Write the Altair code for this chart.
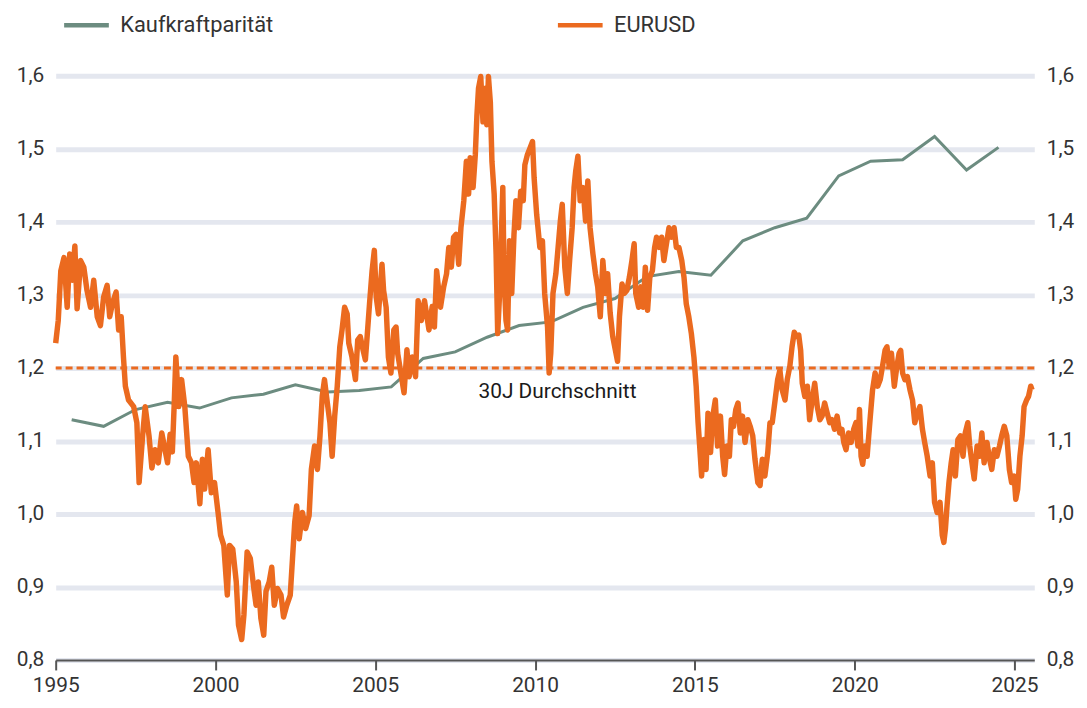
import altair as alt
import pandas as pd

SERIES = ["Kaufkraftparität", "EURUSD"]
COLORS = ["#6c8c80", "#eb6a1f"]
AVG_30Y = 1.2
AVG_LABEL = "30J Durchschnitt"
AVG_LABEL_YEAR = 2010.7
X_TICKS = [1995, 2000, 2005, 2010, 2015, 2020, 2025]
Y_TICKS = [0.8, 0.9, 1.0, 1.1, 1.2, 1.3, 1.4, 1.5, 1.6]

PPP_YEARS = [1995.5, 1996.5, 1997.5, 1998.5, 1999.5, 2000.5, 2001.5, 2002.5, 2003.5, 2004.5,
             2005.5, 2006.5, 2007.5, 2008.5, 2009.5, 2010.5, 2011.5, 2012.5, 2013.5, 2014.5,
             2015.5, 2016.5, 2017.5, 2018.5, 2019.5, 2020.5, 2021.5, 2022.5, 2023.5, 2024.5]
PPP_VALUES = [1.129, 1.120, 1.143, 1.153, 1.145, 1.159, 1.164, 1.177, 1.167, 1.169,
              1.174, 1.213, 1.222, 1.242, 1.258, 1.263, 1.283, 1.295, 1.325, 1.332,
              1.327, 1.374, 1.392, 1.405, 1.463, 1.483, 1.485, 1.517, 1.471, 1.502]

EUR_YEARS = [
    1995.00, 1995.08, 1995.16, 1995.26, 1995.36, 1995.44, 1995.52, 1995.60, 1995.67, 1995.78,
    1995.88, 1995.98, 1996.09, 1996.19, 1996.30, 1996.40, 1996.50, 1996.61, 1996.69, 1996.78,
    1996.89, 1996.97, 1997.05, 1997.12, 1997.18, 1997.28, 1997.44, 1997.54, 1997.61, 1997.72,
    1997.80, 1997.92, 1998.01, 1998.11, 1998.21, 1998.32, 1998.42, 1998.50, 1998.58, 1998.65,
    1998.71, 1998.76, 1998.85, 1998.94, 1999.04, 1999.15, 1999.25, 1999.33, 1999.40, 1999.51,
    1999.59, 1999.66, 1999.77, 1999.87, 1999.97, 2000.08, 2000.16, 2000.26, 2000.37, 2000.44,
    2000.54, 2000.65, 2000.72, 2000.82, 2000.89, 2000.99, 2001.09, 2001.20, 2001.27, 2001.34,
    2001.42, 2001.51, 2001.58, 2001.68, 2001.76, 2001.84, 2001.94, 2002.05, 2002.13, 2002.23,
    2002.34, 2002.41, 2002.48, 2002.54, 2002.62, 2002.72, 2002.82, 2002.93, 2003.00, 2003.10,
    2003.19, 2003.27, 2003.34, 2003.41, 2003.50, 2003.58, 2003.65, 2003.73, 2003.81, 2003.89,
    2003.96, 2004.04, 2004.12, 2004.17, 2004.27, 2004.38, 2004.45, 2004.53, 2004.62, 2004.69,
    2004.76, 2004.82, 2004.90, 2004.97, 2005.03, 2005.10, 2005.21, 2005.26, 2005.34, 2005.41,
    2005.49, 2005.58, 2005.65, 2005.70, 2005.80, 2005.90, 2005.99, 2006.06, 2006.16, 2006.26,
    2006.34, 2006.44, 2006.54, 2006.68, 2006.78, 2006.85, 2006.92, 2007.04, 2007.14, 2007.23,
    2007.30, 2007.38, 2007.45, 2007.53, 2007.61, 2007.68, 2007.77, 2007.85, 2007.92, 2007.97,
    2008.06, 2008.13, 2008.18, 2008.23, 2008.30, 2008.37, 2008.44, 2008.49, 2008.54, 2008.60,
    2008.65, 2008.72, 2008.78, 2008.83, 2008.89, 2008.94, 2008.99, 2009.03, 2009.09, 2009.14,
    2009.20, 2009.27, 2009.34, 2009.40, 2009.48, 2009.55, 2009.63, 2009.68, 2009.76, 2009.84,
    2009.92, 2009.97, 2010.05, 2010.15, 2010.23, 2010.30, 2010.39, 2010.44, 2010.49, 2010.56,
    2010.65, 2010.72, 2010.79, 2010.85, 2010.93, 2011.01, 2011.08, 2011.16, 2011.22, 2011.27,
    2011.34, 2011.41, 2011.50, 2011.58, 2011.65, 2011.72, 2011.81, 2011.89, 2011.96, 2012.04,
    2012.12, 2012.20, 2012.27, 2012.35, 2012.43, 2012.51, 2012.58, 2012.64, 2012.72, 2012.79,
    2012.87, 2012.95, 2013.03, 2013.10, 2013.15, 2013.24, 2013.31, 2013.38, 2013.45, 2013.52,
    2013.59, 2013.67, 2013.74, 2013.80, 2013.88, 2013.96, 2014.03, 2014.11, 2014.19, 2014.27,
    2014.35, 2014.42, 2014.50, 2014.59, 2014.66, 2014.73, 2014.81, 2014.89, 2014.97, 2015.04,
    2015.10, 2015.15, 2015.21, 2015.28, 2015.35, 2015.41, 2015.49, 2015.56, 2015.64, 2015.71,
    2015.80, 2015.87, 2015.93, 2016.00, 2016.08, 2016.14, 2016.21, 2016.28, 2016.35, 2016.42,
    2016.49, 2016.57, 2016.66, 2016.73, 2016.81, 2016.88, 2016.97, 2017.04, 2017.11, 2017.19,
    2017.28, 2017.35, 2017.42, 2017.51, 2017.59, 2017.66, 2017.73, 2017.82, 2017.89, 2017.97,
    2018.04, 2018.11, 2018.18, 2018.25, 2018.31, 2018.36, 2018.44, 2018.52, 2018.59, 2018.67,
    2018.75, 2018.83, 2018.91, 2018.98, 2019.06, 2019.14, 2019.22, 2019.29, 2019.37, 2019.45,
    2019.53, 2019.60, 2019.66, 2019.73, 2019.81, 2019.89, 2019.97, 2020.04, 2020.10, 2020.15,
    2020.20, 2020.25, 2020.32, 2020.39, 2020.44, 2020.49, 2020.56, 2020.64, 2020.72, 2020.80,
    2020.87, 2020.95, 2021.01, 2021.08, 2021.15, 2021.24, 2021.32, 2021.39, 2021.44, 2021.50,
    2021.57, 2021.65, 2021.73, 2021.81, 2021.88, 2021.96, 2022.04, 2022.12, 2022.19, 2022.27,
    2022.36, 2022.43, 2022.50, 2022.58, 2022.67, 2022.74, 2022.79, 2022.84, 2022.89, 2022.95,
    2023.02, 2023.08, 2023.15, 2023.23, 2023.31, 2023.39, 2023.46, 2023.54, 2023.60, 2023.67,
    2023.74, 2023.83, 2023.91, 2023.98, 2024.05, 2024.14, 2024.22, 2024.29, 2024.37, 2024.45,
    2024.53, 2024.60, 2024.68, 2024.76, 2024.84, 2024.91, 2024.99, 2025.04, 2025.10, 2025.17,
    2025.24, 2025.30, 2025.38, 2025.44, 2025.51, 2025.55,
]
EUR_VALUES = [
    1.234, 1.265, 1.333, 1.351, 1.283, 1.356, 1.320, 1.367, 1.281, 1.347,
    1.338, 1.306, 1.283, 1.320, 1.270, 1.258, 1.297, 1.313, 1.270, 1.289,
    1.304, 1.252, 1.270, 1.215, 1.175, 1.156, 1.147, 1.125, 1.043, 1.107,
    1.147, 1.107, 1.063, 1.088, 1.070, 1.111, 1.088, 1.070, 1.109, 1.085,
    1.152, 1.215, 1.147, 1.184, 1.147, 1.079, 1.070, 1.043, 1.070, 1.014,
    1.075, 1.034, 1.088, 1.029, 1.043, 1.002, 0.971, 0.957, 0.889, 0.957,
    0.952, 0.907, 0.848, 0.828, 0.862, 0.948, 0.939, 0.898, 0.875, 0.907,
    0.857, 0.834, 0.894, 0.907, 0.927, 0.875, 0.898, 0.889, 0.859, 0.875,
    0.889, 0.939, 0.989, 1.011, 0.966, 1.002, 0.980, 0.998, 1.061, 1.093,
    1.061, 1.107, 1.161, 1.184, 1.152, 1.125, 1.079, 1.134, 1.175, 1.229,
    1.252, 1.283, 1.274, 1.234, 1.215, 1.184, 1.238, 1.243, 1.224, 1.211,
    1.252, 1.288, 1.333, 1.361, 1.297, 1.274, 1.342, 1.306, 1.283, 1.215,
    1.193, 1.252, 1.256, 1.220, 1.193, 1.166, 1.225, 1.188, 1.215, 1.188,
    1.292, 1.265, 1.292, 1.252, 1.284, 1.256, 1.333, 1.283, 1.311, 1.329,
    1.365, 1.338, 1.379, 1.383, 1.342, 1.392, 1.429, 1.483, 1.438, 1.488,
    1.447, 1.492, 1.546, 1.583, 1.599, 1.537, 1.583, 1.533, 1.599, 1.564,
    1.483, 1.438, 1.356, 1.247, 1.302, 1.374, 1.447, 1.324, 1.265, 1.252,
    1.374, 1.302, 1.383, 1.429, 1.392, 1.442, 1.429, 1.478, 1.492, 1.501,
    1.510, 1.460, 1.410, 1.365, 1.374, 1.302, 1.256, 1.193, 1.220, 1.302,
    1.329, 1.365, 1.401, 1.424, 1.338, 1.302, 1.347, 1.392, 1.447, 1.469,
    1.490, 1.429, 1.447, 1.401, 1.456, 1.392, 1.356, 1.329, 1.311, 1.270,
    1.347, 1.302, 1.329, 1.275, 1.243, 1.225, 1.209, 1.270, 1.315, 1.302,
    1.306, 1.324, 1.347, 1.370, 1.302, 1.283, 1.311, 1.283, 1.338, 1.279,
    1.324, 1.333, 1.365, 1.379, 1.365, 1.379, 1.347, 1.370, 1.392, 1.379,
    1.392, 1.365, 1.365, 1.347, 1.324, 1.288, 1.270, 1.247, 1.215, 1.175,
    1.125, 1.093, 1.052, 1.102, 1.061, 1.138, 1.084, 1.134, 1.156, 1.093,
    1.134, 1.079, 1.054, 1.093, 1.079, 1.129, 1.120, 1.143, 1.152, 1.111,
    1.134, 1.098, 1.129, 1.120, 1.107, 1.075, 1.043, 1.039, 1.075, 1.052,
    1.084, 1.125, 1.125, 1.156, 1.184, 1.197, 1.170, 1.156, 1.184, 1.202,
    1.229, 1.249, 1.243, 1.245, 1.224, 1.179, 1.161, 1.175, 1.129, 1.156,
    1.179, 1.147, 1.129, 1.134, 1.152, 1.138, 1.125, 1.129, 1.116, 1.134,
    1.111, 1.116, 1.098, 1.088, 1.111, 1.098, 1.116, 1.125, 1.093, 1.143,
    1.079, 1.068, 1.093, 1.079, 1.107, 1.134, 1.170, 1.193, 1.175, 1.184,
    1.202, 1.224, 1.229, 1.202, 1.220, 1.175, 1.202, 1.220, 1.224, 1.193,
    1.184, 1.188, 1.170, 1.156, 1.125, 1.138, 1.147, 1.116, 1.098, 1.079,
    1.052, 1.070, 1.016, 1.002, 1.016, 0.971, 0.961, 0.980, 1.011, 1.043,
    1.070, 1.088, 1.052, 1.102, 1.107, 1.079, 1.111, 1.125, 1.093, 1.070,
    1.048, 1.093, 1.079, 1.111, 1.070, 1.098, 1.075, 1.061, 1.088, 1.079,
    1.093, 1.107, 1.120, 1.107, 1.061, 1.043, 1.052, 1.020, 1.034, 1.079,
    1.107, 1.147, 1.156, 1.161, 1.175, 1.170,
]

FONT = "Roboto"
FS = 21
LEGEND_FS = 22
TEXT_COLOR = "#333333"
GRID_COLOR = "#e4e7ef"

ppp = pd.DataFrame({"year": PPP_YEARS, "value": PPP_VALUES, "series": SERIES[0]})
eur = pd.DataFrame({"year": EUR_YEARS, "value": EUR_VALUES, "series": SERIES[1]})
avg = pd.DataFrame({"value": [AVG_30Y]})
avg_label = pd.DataFrame({"year": [AVG_LABEL_YEAR], "value": [AVG_30Y], "label": [AVG_LABEL]})

xscale = alt.Scale(domain=[1995, 2025.62], nice=False, zero=False)
yscale = alt.Scale(domain=[0.8, 1.6], nice=False, zero=False)
label_expr = "replace(format(datum.value, '.1f'), '.', ',')"

x_axis = alt.Axis(values=X_TICKS, format="d", grid=False, title=None, labelFlush=False,
                  domainColor="#555555", domainWidth=2, tickColor="#555555",
                  tickWidth=2, tickSize=10, labelFontSize=FS, labelFont=FONT,
                  labelColor=TEXT_COLOR, labelPadding=5)
left_axis = alt.Axis(values=Y_TICKS, labelExpr=label_expr, grid=True, gridColor=GRID_COLOR,
                     gridWidth=5, domain=False, ticks=False, title=None, orient="left",
                     labelFontSize=FS, labelFont=FONT, labelColor=TEXT_COLOR, labelPadding=12)
right_axis = alt.Axis(values=Y_TICKS, labelExpr=label_expr, grid=False, domain=False,
                      ticks=False, title=None, orient="right",
                      labelFontSize=FS, labelFont=FONT, labelColor=TEXT_COLOR, labelPadding=12)

color = alt.Color(
    "series:N",
    scale=alt.Scale(domain=SERIES, range=COLORS),
    legend=alt.Legend(title=None, orient="none", legendX=6, legendY=-76,
                      direction="horizontal", symbolType="stroke", symbolSize=2025,
                      symbolStrokeWidth=4.5, labelFontSize=LEGEND_FS, labelFont=FONT,
                      labelColor=TEXT_COLOR, labelOffset=9, labelLimit=400,
                      columnPadding=276),
)

rule = alt.Chart(avg).mark_rule(color=COLORS[1], strokeDash=[7, 4], strokeWidth=3).encode(
    y=alt.Y("value:Q", scale=yscale, axis=left_axis)
)

ppp_line = alt.Chart(ppp).mark_line(strokeWidth=3).encode(
    x=alt.X("year:Q", scale=xscale, axis=x_axis),
    y=alt.Y("value:Q", scale=yscale, axis=right_axis),
    color=color,
)

eur_line = alt.Chart(eur).mark_line(strokeWidth=5.5, strokeJoin="round").encode(
    x=alt.X("year:Q", scale=xscale, axis=x_axis),
    y=alt.Y("value:Q", scale=yscale, axis=None),
    color=color,
)

text = alt.Chart(avg_label).mark_text(font=FONT, fontSize=FS, color="#1a1a1a", dy=24,
                                      baseline="middle", align="center").encode(
    x=alt.X("year:Q", scale=xscale, axis=x_axis),
    y=alt.Y("value:Q", scale=yscale, axis=None),
    text="label:N",
)

chart = alt.layer(rule, ppp_line, eur_line, text).resolve_axis(y="independent").properties(
    width=985, height=588,
    autosize=alt.AutoSizeParams(type="none"),
    padding={"left": 48, "top": 66, "right": 45, "bottom": 40},
).configure_view(stroke=None)

chart.save("out.html", embed_options={"renderer": "svg", "actions": False})
